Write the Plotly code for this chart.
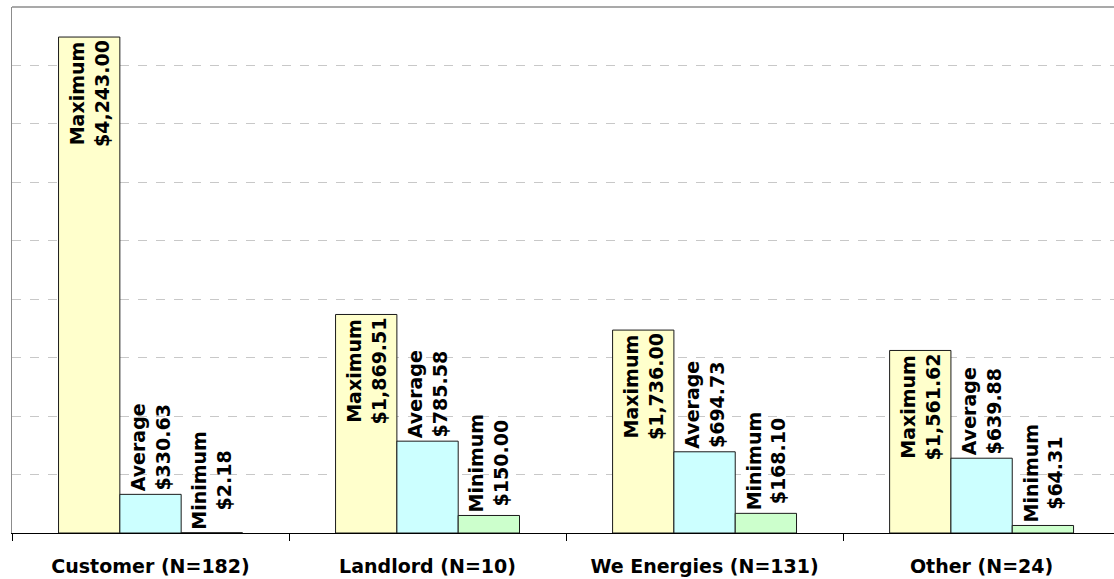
import plotly.graph_objects as go

# Bill amounts by party responsible
categories = ["Customer (N=182)", "Landlord (N=10)", "We Energies (N=131)", "Other (N=24)"]
maximum = [4243.00, 1869.51, 1736.00, 1561.62]
average = [330.63, 785.58, 694.73, 639.88]
minimum = [2.18, 150.00, 168.10, 64.31]

FONT = "Verdana, DejaVu Sans, sans-serif"


def labels(name, values):
    return [f"{name}<br>${v:,.2f}" for v in values]


series = [
    ("Maximum", maximum, "#FFFFCC", "inside"),
    ("Average", average, "#CCFFFF", "outside"),
    ("Minimum", minimum, "#CCFFCC", "outside"),
]

fig = go.Figure()
for name, vals, color, pos in series:
    fig.add_trace(go.Bar(
        x=categories,
        y=vals,
        name=name,
        text=labels(name, vals),
        textposition=pos,
        insidetextanchor="end",
        textangle=-90,
        constraintext="none",
        cliponaxis=False,
        textfont=dict(family=FONT, size=19, color="#000000", weight="bold"),
        marker=dict(color=color, line=dict(color="#1a1a1a", width=1)),
        hoverinfo="skip",
    ))

fig.update_layout(
    width=1114,
    height=579,
    margin=dict(l=12, r=0, t=7, b=46),
    paper_bgcolor="white",
    plot_bgcolor="white",
    barmode="group",
    bargap=0.336,
    bargroupgap=0,
    showlegend=False,
    font=dict(family=FONT, color="#000000"),
    xaxis=dict(
        type="category",
        range=[-0.5, 3.478],
        showline=True,
        linecolor="#000000",
        linewidth=1,
        ticks="outside",
        tickson="boundaries",
        ticklen=7,
        tickcolor="#000000",
        tickwidth=1,
        ticklabelstandoff=16,
        tickfont=dict(family=FONT, size=19, color="#000000", weight="bold"),
        showgrid=False,
        zeroline=False,
        fixedrange=True,
    ),
    yaxis=dict(
        range=[0, 4500],
        dtick=500,
        showticklabels=False,
        showgrid=True,
        gridcolor="#c8c8c8",
        griddash="dash",
        gridwidth=1,
        showline=True,
        linecolor="#8c8c8c",
        linewidth=1,
        zeroline=False,
        ticks="",
        fixedrange=True,
    ),
    shapes=[
        dict(type="line", xref="paper", yref="paper", x0=0, x1=1, y0=1, y1=1,
             line=dict(color="#8c8c8c", width=1.5)),
    ],
)

fig.write_html("out.html")
